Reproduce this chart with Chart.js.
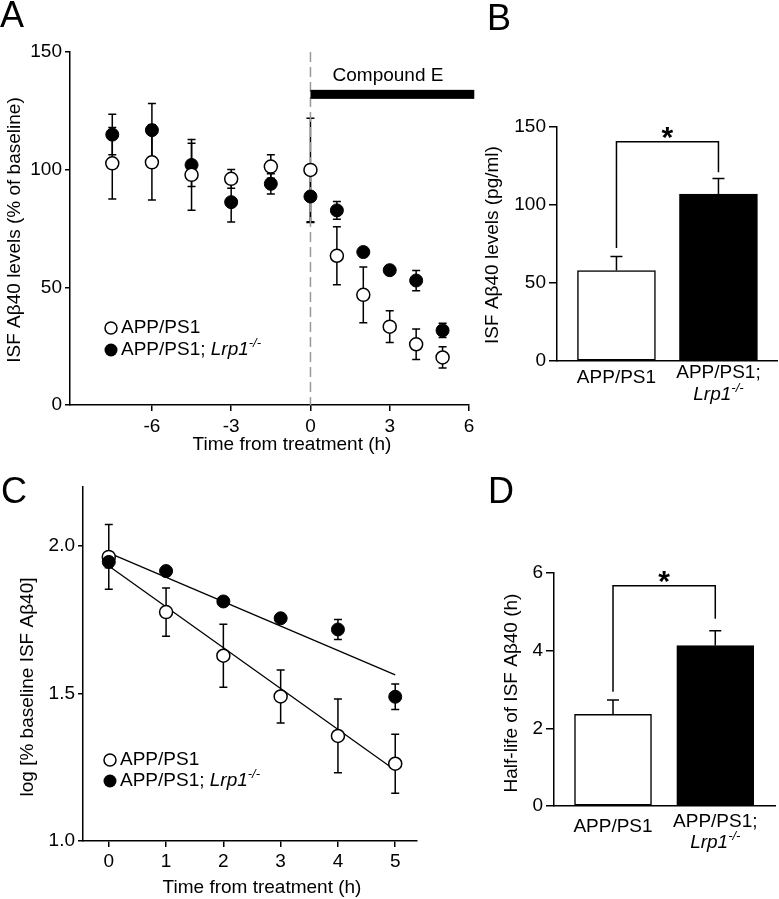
<!DOCTYPE html>
<html>
<head>
<meta charset="utf-8">
<script src="https://cdn.jsdelivr.net/npm/chart.js@4.4.1/dist/chart.umd.min.js"></script>
<style>
html, body { margin: 0; padding: 0; background: #fff; }
#wrap { position: relative; width: 779px; height: 899px; }
canvas { position: absolute; }
</style>
</head>
<body>
<div id="wrap">
  <canvas id="chartA" width="480" height="460" style="left:0px;top:0px"></canvas>
  <canvas id="chartB" width="299" height="410" style="left:480px;top:0px"></canvas>
  <canvas id="chartC" width="480" height="437" style="left:0px;top:462px"></canvas>
  <canvas id="chartD" width="299" height="437" style="left:480px;top:462px"></canvas>
</div>
<script>
// ---- data ----
const groups = ['APP/PS1', 'APP/PS1; Lrp1-/-'];

// A: ISF Abeta40 (% of baseline) over time
const hoursA = [-7.5, -6, -4.5, -3, -1.5, 0, 1, 2, 3, 4, 5];
const wtA = [102.7, 103.1, 97.8, 96.1, 101.3, 99.9, 63.4, 46.8, 33.3, 25.8, 20.2];
const wtErrA = [15.2, 16, 15, 4, 5, 22, 12.3, 11.8, 6.7, 6.5, 4.5];
const koA = [114.9, 116.8, 102, 86.2, 94, 88.6, 82.7, 65, 57.3, 52.9, 31.7];
const koErrA = [8.6, 11.3, 9.2, 8.4, 4.3, 11, 3.8, 1.5, 1.8, 4.3, 3];
const xTicksA = [-6, -3, 0, 3, 6];
const yTicksA = [0, 50, 100, 150];
const compoundE = { from: 0, to: 6.2, level: 132, labelLevel: 140 };

// B: ISF Abeta40 (pg/ml)
const meansB = [58, 107];
const semB = [9, 10];
const yTicksB = [0, 50, 100, 150];
const bracketB = [72.5, 140.6, 121];

// C: log % baseline, with fitted lines
const hoursC = [0, 1, 2, 3, 4, 5];
const wtC = [1.963, 1.776, 1.628, 1.490, 1.356, 1.262];
const wtErrC = [0.11, 0.082, 0.107, 0.09, 0.125, 0.1];
const koC = [1.946, 1.915, 1.812, 1.755, 1.717, 1.489];
const koErrC = [0.02, 0.015, 0.012, 0.012, 0.034, 0.043];
const fitHoursC = [0, 5];
const fitWtC = [1.932, 1.240];
const fitKoC = [1.977, 1.563];
const xTicksC = [0, 1, 2, 3, 4, 5];
const yTicksC = [1.0, 1.5, 2.0];

// D: half-life (h)
const meansD = [2.36, 4.13];
const semD = [0.37, 0.38];
const yTicksD = [0, 2, 4, 6];
const bracketD = [2.94, 5.67, 4.82];

const FONT = '"Liberation Sans", Arial, Helvetica, sans-serif';
Chart.defaults.font.family = FONT;
Chart.defaults.color = '#000';

// ---- helpers ----
function linAxis(min, max, ticks, size, tickLen, fmt) {
    return {
        type: 'linear', min: min, max: max, offset: false,
        afterBuildTicks: s => { s.ticks = ticks.map(v => ({ value: v })); },
        afterFit: s => {
            if (s.isHorizontal()) { s.height = size; s.paddingLeft = 0; s.paddingRight = 0; }
            else { s.width = size; s.paddingTop = 0; s.paddingBottom = 0; }
        },
        grid: { drawOnChartArea: false, drawTicks: true, tickLength: tickLen, color: '#000', lineWidth: 1.5, offset: false },
        border: { display: true, color: '#000', width: 1.5 },
        ticks: { color: '#000', font: { size: 19 }, padding: 3, callback: fmt || (v => String(v)) }
    };
}

function barXAxis(min, max, size) {
    return {
        type: 'linear', min: min, max: max, offset: false,
        afterFit: s => { s.height = size; s.paddingLeft = 0; s.paddingRight = 0; },
        grid: { display: false, offset: false },
        border: { display: true, color: '#000', width: 1.5 },
        ticks: { display: false }
    };
}

function points(xs, ys) {
    return xs.map((x, i) => ({ x: x, y: ys[i] }));
}

// text with italic / superscript pieces
function richText(ctx, parts, x, y, align) {
    const size = 19;
    const fontOf = p => p[1] === 'sup' ? 'italic 13px ' + FONT : (p[1] === 'i' ? 'italic ' : '') + size + 'px ' + FONT;
    let w = 0;
    parts.forEach(p => { ctx.font = fontOf(p); w += ctx.measureText(p[0]).width; });
    let cx = align === 'center' ? x - w / 2 : x;
    ctx.textAlign = 'left';
    ctx.textBaseline = 'middle';
    parts.forEach(p => {
        ctx.font = fontOf(p);
        ctx.fillText(p[0], cx, p[1] === 'sup' ? y - 7 : y);
        cx += ctx.measureText(p[0]).width;
    });
}

const koParts = [['APP/PS1; ', ''], ['Lrp1', 'i'], ['-/-', 'sup']];

function text(ctx, str, x, y, opts) {
    opts = opts || {};
    ctx.save();
    ctx.font = (opts.weight || '') + ' ' + (opts.size || 19) + 'px ' + FONT;
    ctx.fillStyle = '#000';
    ctx.translate(x, y);
    if (opts.rot) ctx.rotate(-Math.PI / 2);
    ctx.textAlign = opts.align || 'center';
    ctx.textBaseline = opts.baseline || 'middle';
    ctx.fillText(str, 0, 0);
    ctx.restore();
}

function legend(ctx, x, y1, y2) {
    ctx.save();
    ctx.lineWidth = 1.5;
    ctx.strokeStyle = '#000';
    ctx.beginPath(); ctx.arc(x, y1, 6, 0, Math.PI * 2);
    ctx.fillStyle = '#fff'; ctx.fill(); ctx.stroke();
    ctx.beginPath(); ctx.arc(x, y2, 6.5, 0, Math.PI * 2);
    ctx.fillStyle = '#000'; ctx.fill();
    richText(ctx, [[groups[0], '']], x + 10, y1, 'left');
    richText(ctx, koParts, x + 10, y2, 'left');
    ctx.restore();
}

// error bars under the points
const errorBars = {
    id: 'errorBars',
    beforeDatasetsDraw(chart) {
        const ctx = chart.ctx;
        const y = chart.scales.y;
        ctx.save();
        ctx.strokeStyle = '#000';
        ctx.lineWidth = 1.5;
        chart.data.datasets.forEach((ds, i) => {
            if (!ds.errors) return;
            chart.getDatasetMeta(i).data.forEach((el, j) => {
                const v = ds.data[j].y, e = ds.errors[j];
                const top = y.getPixelForValue(v + e), bot = y.getPixelForValue(v - e);
                ctx.beginPath();
                ctx.moveTo(el.x, top); ctx.lineTo(el.x, bot);
                ctx.moveTo(el.x - 4, top); ctx.lineTo(el.x + 4, top);
                ctx.moveTo(el.x - 4, bot); ctx.lineTo(el.x + 4, bot);
                ctx.stroke();
            });
        });
        ctx.restore();
    }
};

// upward error bars + significance bracket for bar panels
function barDecor(errs, bracket, labelY, letter, title) {
    return {
        id: 'barDecor',
        afterDraw(chart) {
            const ctx = chart.ctx;
            const x = chart.scales.x, y = chart.scales.y;
            const ds = chart.data.datasets[0];
            ctx.save();
            ctx.strokeStyle = '#000';
            ctx.lineWidth = 1.5;
            ds.data.forEach((d, j) => {
                const px = x.getPixelForValue(d.x);
                const top = y.getPixelForValue(d.y + errs[j]);
                ctx.beginPath();
                ctx.moveTo(px, y.getPixelForValue(d.y)); ctx.lineTo(px, top);
                ctx.moveTo(px - 6, top); ctx.lineTo(px + 6, top);
                ctx.stroke();
            });
            const x0 = x.getPixelForValue(0), x1 = x.getPixelForValue(1);
            const yt = y.getPixelForValue(bracket[1]);
            ctx.beginPath();
            ctx.moveTo(x0, y.getPixelForValue(bracket[0]));
            ctx.lineTo(x0, yt); ctx.lineTo(x1, yt);
            ctx.lineTo(x1, y.getPixelForValue(bracket[2]));
            ctx.stroke();
            // asterisk
            ctx.font = 'bold 30px ' + FONT;
            const m = ctx.measureText('*');
            ctx.fillStyle = '#000';
            ctx.textAlign = 'center';
            ctx.textBaseline = 'alphabetic';
            ctx.fillText('*', (x0 + x1) / 2, yt - 9 + (m.actualBoundingBoxAscent - m.actualBoundingBoxDescent) / 2);
            // category labels
            richText(ctx, [[groups[0], '']], x0, labelY[0], 'center');
            richText(ctx, [['APP/PS1;', '']], x1, labelY[1], 'center');
            richText(ctx, [['Lrp1', 'i'], ['-/-', 'sup']], x1, labelY[2], 'center');
            ctx.restore();
            text(ctx, letter.t, letter.x, letter.y, { size: 36, align: 'left', baseline: 'alphabetic' });
            text(ctx, title.t, title.x, title.y, { rot: true });
        }
    };
}

// ---- Panel A ----
new Chart(document.getElementById('chartA'), {
    type: 'scatter',
    data: {
        datasets: [
            { label: groups[0], data: points(hoursA, wtA), errors: wtErrA, pointRadius: 6.5, pointHoverRadius: 6.5,
              backgroundColor: '#fff', borderColor: '#000', borderWidth: 1.5 },
            { label: groups[1], data: points(hoursA, koA), errors: koErrA, pointRadius: 6.5, pointHoverRadius: 6.5,
              backgroundColor: '#000', borderColor: '#000', borderWidth: 1 }
        ]
    },
    options: {
        responsive: false, animation: false, devicePixelRatio: 1,
        layout: { padding: { top: 52, right: 11, left: 0, bottom: 0 } },
        plugins: { legend: { display: false }, tooltip: { enabled: false } },
        scales: {
            x: Object.assign(linAxis(-9.1, 6, xTicksA, 55, 6), { ticks: { color: '#000', font: { size: 19 }, padding: 4, callback: v => String(v) } }),
            y: linAxis(0, 150, yTicksA, 70, 5)
        }
    },
    plugins: [errorBars, {
        id: 'decorA',
        beforeDatasetsDraw(chart) {
            const { ctx, scales: { x, y } } = chart;
            ctx.save();
            ctx.strokeStyle = '#999';
            ctx.lineWidth = 1.5;
            ctx.setLineDash([10, 5]);
            ctx.beginPath();
            ctx.moveTo(x.getPixelForValue(compoundE.from), y.getPixelForValue(150));
            ctx.lineTo(x.getPixelForValue(compoundE.from), y.getPixelForValue(0));
            ctx.stroke();
            ctx.restore();
        },
        afterDraw(chart) {
            const { ctx, scales: { x, y } } = chart;
            const x0 = x.getPixelForValue(compoundE.from), x1 = x.getPixelForValue(compoundE.to);
            ctx.save();
            ctx.fillStyle = '#000';
            ctx.fillRect(x0, y.getPixelForValue(compoundE.level) - 4.5, x1 - x0, 9);
            ctx.restore();
            text(ctx, 'Compound E', 388, y.getPixelForValue(compoundE.labelLevel));
            legend(ctx, 111, 328, 350);
            text(ctx, 'A', 0, 27, { size: 36, align: 'left', baseline: 'alphabetic' });
            text(ctx, 'ISF A\u03b240 levels (% of baseline)', 15, 230, { rot: true });
            text(ctx, 'Time from treatment (h)', 292, 445);
        }
    }]
});

// ---- Panel B ----
new Chart(document.getElementById('chartB'), {
    type: 'bar',
    data: {
        datasets: [{
            data: points([0, 1], meansB),
            backgroundColor: ['#fff', '#000'], borderColor: '#000', borderWidth: 1.5,
            borderSkipped: false, barThickness: 78
        }]
    },
    options: {
        responsive: false, animation: false, devicePixelRatio: 1,
        layout: { padding: { top: 127, right: 2, left: 0, bottom: 0 } },
        plugins: { legend: { display: false }, tooltip: { enabled: false } },
        scales: {
            x: barXAxis(-0.583, 1.574, 49),
            y: linAxis(0, 150, yTicksB, 77, 8)
        }
    },
    plugins: [barDecor(semB, bracketB, [378, 373, 395], { t: 'B', x: 7, y: 30 }, { t: 'ISF A\u03b240 levels (pg/ml)', x: 13, y: 245 })]
});

// ---- Panel C ----
new Chart(document.getElementById('chartC'), {
    type: 'scatter',
    data: {
        datasets: [
            { label: groups[1], data: points(hoursC, koC), errors: koErrC, pointRadius: 6.5, pointHoverRadius: 6.5,
              backgroundColor: '#000', borderColor: '#000', borderWidth: 1 },
            { label: groups[0], data: points(hoursC, wtC), errors: wtErrC, pointRadius: 6.5, pointHoverRadius: 6.5,
              backgroundColor: '#fff', borderColor: '#000', borderWidth: 1.5 },
            { data: points(fitHoursC, fitKoC), showLine: true, pointRadius: 0, borderColor: '#000', borderWidth: 1.3 },
            { data: points(fitHoursC, fitWtC), showLine: true, pointRadius: 0, borderColor: '#000', borderWidth: 1.3 }
        ]
    },
    options: {
        responsive: false, animation: false, devicePixelRatio: 1,
        layout: { padding: { top: 25, right: 63, left: 0, bottom: 0 } },
        plugins: { legend: { display: false }, tooltip: { enabled: false } },
        scales: {
            x: linAxis(-0.45, 5.38, xTicksC, 58, 6),
            y: linAxis(1.0, 2.2, yTicksC, 83, 5, v => v.toFixed(1))
        }
    },
    plugins: [errorBars, {
        id: 'decorC',
        afterDraw(chart) {
            const ctx = chart.ctx;
            legend(ctx, 110, 298, 319);
            text(ctx, 'C', 1, 41, { size: 36, align: 'left', baseline: 'alphabetic' });
            text(ctx, 'log [% baseline ISF A\u03b240]', 28, 225, { rot: true });
            text(ctx, 'Time from treatment (h)', 262, 426);
        }
    }]
});

// ---- Panel D ----
new Chart(document.getElementById('chartD'), {
    type: 'bar',
    data: {
        datasets: [{
            data: points([0, 1], meansD),
            backgroundColor: ['#fff', '#000'], borderColor: '#000', borderWidth: 1.5,
            borderSkipped: false, barThickness: 77
        }]
    },
    options: {
        responsive: false, animation: false, devicePixelRatio: 1,
        layout: { padding: { top: 111, right: 4, left: 0, bottom: 0 } },
        plugins: { legend: { display: false }, tooltip: { enabled: false } },
        scales: {
            x: barXAxis(-0.577, 1.584, 93),
            y: linAxis(0, 6, yTicksD, 74, 8)
        }
    },
    plugins: [barDecor(semD, bracketD, [364.7, 359.7, 381], { t: 'D', x: 8, y: 41 }, { t: 'Half-life of ISF A\u03b240 (h)', x: 32, y: 231 })]
});
</script>
</body>
</html>
